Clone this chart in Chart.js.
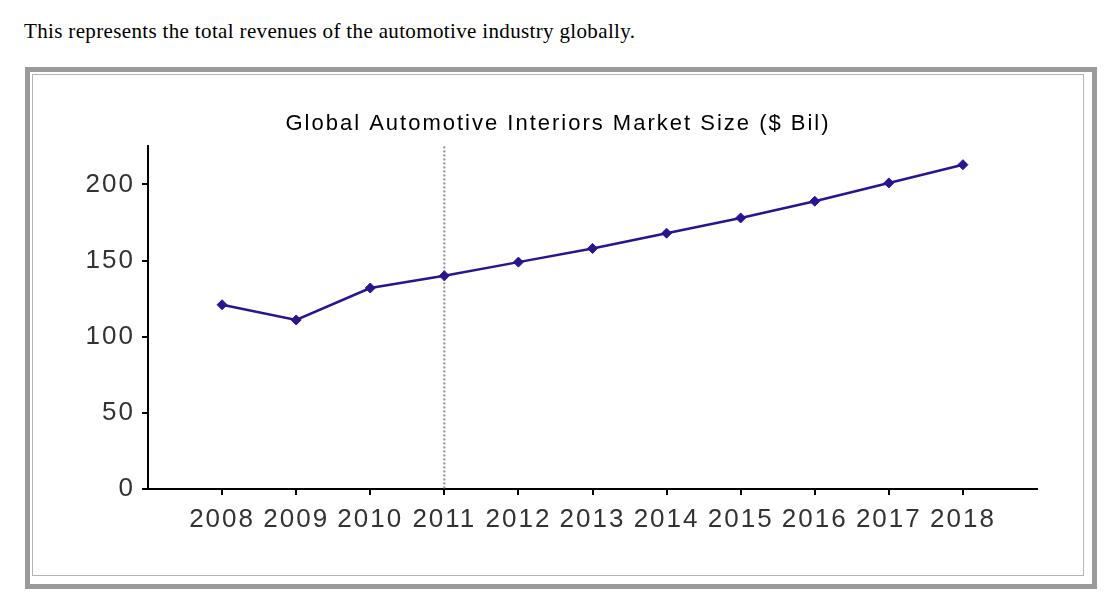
<!DOCTYPE html>
<html>
<head>
<meta charset="utf-8">
<script src="https://cdn.jsdelivr.net/npm/chart.js@4.4.0/dist/chart.umd.min.js"></script>
<style>
  body { margin: 0; background: #fff; width: 1115px; height: 606px; position: relative; overflow: hidden; }
  .caption { position: absolute; left: 24px; top: 19px; font-family: "Liberation Serif", "DejaVu Serif", serif; font-size: 21px; letter-spacing: 0.35px; color: #000; }
  .frame { position: absolute; left: 25px; top: 67px; width: 1058px; height: 508px; border: 5px solid #9a9a9a; padding: 2px; }
  .inner { width: 1050px; height: 500px; border: 1px solid #b4b4b4; position: relative; }
  #chart { position: absolute; left: 0; top: 0; }
</style>
</head>
<body>
<div class="caption">This represents the total revenues of the automotive industry globally.</div>
<div class="frame"><div class="inner"><canvas id="chart" width="1050" height="500"></canvas></div></div>
<script>
// values
const years = [2008, 2009, 2010, 2011, 2012, 2013, 2014, 2015, 2016, 2017, 2018];
const marketSize = [121, 111, 132, 140, 149, 158, 168, 178, 189, 201, 213];
const yTicks = [0, 50, 100, 150, 200];
const dividerYear = 2011;

const lineColor = '#2a1490';

// letter spacing is not a Chart.js option, so set it on the context
const spacingPlugin = {
    id: 'spacing',
    beforeUpdate(chart) { chart.ctx.letterSpacing = '2px'; },
    beforeDraw(chart) { chart.ctx.letterSpacing = '2px'; }
};

// dotted vertical marker at the divider year
const dividerPlugin = {
    id: 'divider',
    beforeDatasetsDraw(chart) {
        const { ctx, chartArea, scales } = chart;
        const x = scales.x.getPixelForValue(dividerYear);
        ctx.save();
        ctx.strokeStyle = '#8c8c8c';
        ctx.lineWidth = 2;
        ctx.setLineDash([2, 2]);
        ctx.beginPath();
        ctx.moveTo(x, chartArea.top);
        ctx.lineTo(x, chartArea.bottom);
        ctx.stroke();
        ctx.restore();
    }
};

new Chart(document.getElementById('chart').getContext('2d'), {
    type: 'line',
    data: {
        datasets: [{
            label: 'Market Size ($ Bil)',
            data: years.map((yr, i) => ({ x: yr, y: marketSize[i] })),
            borderColor: lineColor,
            backgroundColor: lineColor,
            borderWidth: 2.5,
            tension: 0,
            pointStyle: 'rectRot',
            pointRadius: 5,
            pointBorderWidth: 1,
            pointBackgroundColor: lineColor,
            pointBorderColor: lineColor
        }]
    },
    options: {
        responsive: false,
        animation: false,
        devicePixelRatio: 1,
        layout: { padding: { left: 46, right: 46, top: 0, bottom: 0 } },
        plugins: {
            legend: { display: false },
            tooltip: { enabled: false },
            title: {
                display: true,
                text: 'Global Automotive Interiors Market Size ($ Bil)',
                color: '#000',
                font: { family: '"Liberation Sans", Arial, sans-serif', size: 22, weight: 'normal' },
                padding: { top: 36, bottom: 9 }
            }
        },
        scales: {
            x: {
                type: 'linear',
                min: years[0] - 1,
                max: years[years.length - 1] + 1,
                afterBuildTicks: s => { s.ticks = years.map(v => ({ value: v })); },
                afterFit: s => { s.height = 86; },
                border: { display: true, color: '#000', width: 2 },
                grid: { display: true, drawOnChartArea: false, drawTicks: true, tickLength: 6, color: '#000', lineWidth: 2 },
                ticks: {
                    autoSkip: false, maxRotation: 0, padding: 9,
                    color: '#333',
                    font: { family: '"Liberation Sans", Arial, sans-serif', size: 26 },
                    callback: v => String(v)
                }
            },
            y: {
                min: 0,
                max: 225,
                afterBuildTicks: s => { s.ticks = yTicks.map(v => ({ value: v })); },
                afterFit: s => { s.width = 69; },
                border: { display: true, color: '#000', width: 2 },
                grid: { display: true, drawOnChartArea: false, drawTicks: true, tickLength: 6, color: '#000', lineWidth: 2 },
                ticks: {
                    padding: 7,
                    color: '#333',
                    font: { family: '"Liberation Sans", Arial, sans-serif', size: 26 }
                }
            }
        }
    },
    plugins: [spacingPlugin, dividerPlugin]
});
</script>
</body>
</html>
